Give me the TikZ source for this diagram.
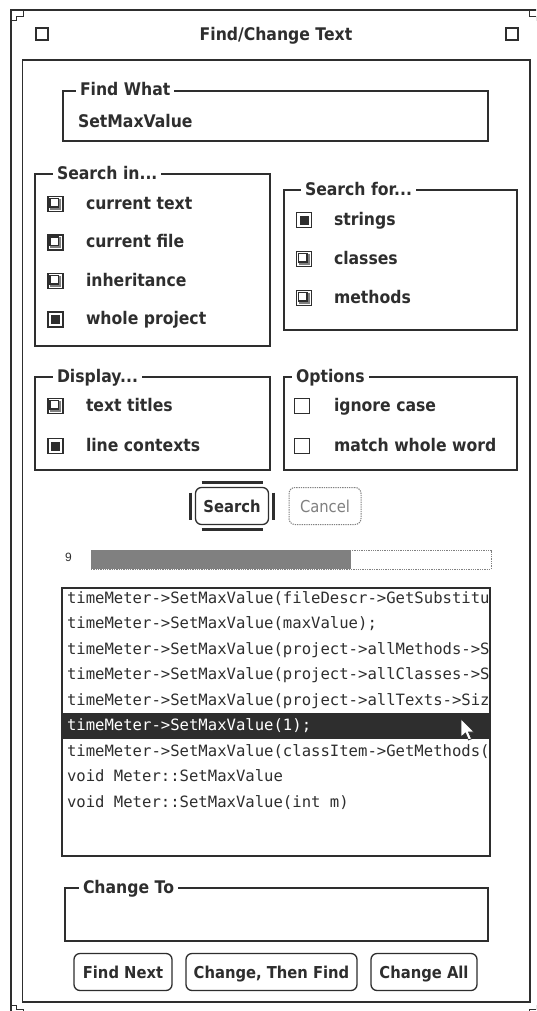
\documentclass[tikz,border=0pt]{standalone}
\usepackage{fontspec}
\newfontfamily\uifont[FakeStretch=0.9]{DejaVu Sans}
\newfontfamily\listfont{DejaVu Sans Mono}
\newfontfamily\smallfont{Liberation Sans}
\usetikzlibrary{positioning}

\definecolor{uiline}{gray}{0.18}
\definecolor{uishade}{gray}{0.5}

\tikzset{
  panelbox/.style={
    draw=uiline, line width=1.3pt,
    inner sep=0pt, anchor=north west
  },
  grouplabel/.style={
    fill=white, anchor=base west,
    inner xsep=4pt, inner ysep=1pt, text=uiline,
    font=\uifont\bfseries\fontsize{17.4}{19}\selectfont
  },
  uilabel/.style={
    anchor=base west, inner sep=0pt, text=uiline,
    font=\uifont\bfseries\fontsize{17.4}{19}\selectfont
  },
  listline/.style={
    anchor=base west, inner sep=0pt, text=uiline,
    font=\listfont\fontsize{15.6}{18}\selectfont
  },
  chkbox/.style={
    draw=uiline, line width=1.5pt,
    minimum size=15pt, inner sep=0pt
  },
  chkoff/.style={
    chkbox, path picture={
      \fill[uishade] ([shift={(-5.5pt,-5.5pt)}]path picture bounding box.center)
        rectangle ([shift={(5.5pt,5.5pt)}]path picture bounding box.center);
      \draw[uiline, line width=1.1pt, fill=white, sharp corners]
        ([shift={(-5.5pt,-3pt)}]path picture bounding box.center)
        rectangle ([shift={(3pt,5.5pt)}]path picture bounding box.center);
    }
  },
  chkon/.style={
    chkbox, path picture={
      \fill[uiline] ([shift={(-4.5pt,-4.5pt)}]path picture bounding box.center)
        rectangle ([shift={(4.5pt,4.5pt)}]path picture bounding box.center);
    }
  },
  chkplain/.style={
    draw=uiline, line width=1.1pt,
    minimum size=15pt, inner sep=0pt
  },
  uibutton/.style={
    draw=uiline, line width=1.3pt, rounded corners=6pt,
    minimum height=37pt, inner sep=0pt, text=uiline,
    text height=12pt, text depth=0pt,
    font=\uifont\bfseries\fontsize{16.4}{18}\selectfont
  },
  dimbutton/.style={
    uibutton, draw=uishade, densely dotted, line width=1pt, text=uishade,
    font=\uifont\fontsize{16.4}{18}\selectfont
  },
}

\begin{document}
\begin{tikzpicture}[x=1pt, y=-1pt, every node/.style={outer sep=0pt}]

\useasboundingbox (0,0) rectangle (536,1011);
\fill[white] (0,0) rectangle (536,1011);
\clip (0,0) rectangle (536,1011);

%% Window frame and inner panel
\node[panelbox, line width=2.8pt, minimum width=530pt, minimum height=1012pt] (window) at (11,10) {};
\node[panelbox, minimum width=507.5pt, minimum height=942pt] (panel) at (22.5,60) {};

%% corner marks of the frame
\draw[uiline, line width=1pt] (12,21) -- (16,21) -- (16,17) -- (23,17) -- (23,11);
\draw[uiline, line width=1pt] (540,21) -- (536,21) -- (536,17) -- (529,17) -- (529,11);
\draw[uiline, line width=1pt] (12,1005) -- (16,1005) -- (16,1009) -- (23,1009) -- (23,1012);
\draw[uiline, line width=1pt] (540,1005) -- (536,1005) -- (536,1009) -- (529,1009) -- (529,1012);

%% Title bar
\node[chkplain, minimum size=12pt, line width=1.2pt, anchor=north west] (closebox) at (36,28) {};
\node[chkplain, minimum size=12pt, line width=1.2pt, anchor=north west] (zoombox) at (506,28) {};
\node[uilabel, anchor=base] (title) at (276,41) {Find/Change Text};

%% Find What
\node[panelbox, minimum width=425pt, minimum height=50pt] (findbox) at (63,91) {};
\node[grouplabel] (findlabel) at (76,96) {Find What};
\node[uilabel] (findtext) at (78,128) {SetMaxValue};

%% Search in...
\node[panelbox, minimum width=235pt, minimum height=172pt] (inbox) at (35,174) {};
\node[grouplabel] (inlabel) at (53,179) {Search in...};
\node[chkoff] (chktext) at (55.5,204) {};
\node[uilabel] (lbltext) at (86,209) {current text};
\node[chkoff] (chkfile) at (55.5,242.5) {};
\node[uilabel] (lblfile) at (86,247.5) {current file};
\node[chkoff] (chkinherit) at (55.5,281) {};
\node[uilabel] (lblinherit) at (86,286) {inheritance};
\node[chkon] (chkproject) at (55.5,319.5) {};
\node[uilabel] (lblproject) at (86,324.5) {whole project};

%% Search for...
\node[panelbox, minimum width=233pt, minimum height=140pt] (forbox) at (284,190) {};
\node[grouplabel] (forlabel) at (301,195) {Search for...};
\node[chkon] (chkstrings) at (304,220) {};
\node[uilabel] (lblstrings) at (334,225) {strings};
\node[chkoff] (chkclasses) at (304,259) {};
\node[uilabel] (lblclasses) at (334,264) {classes};
\node[chkoff] (chkmethods) at (304,298) {};
\node[uilabel] (lblmethods) at (334,303) {methods};

%% Display...
\node[panelbox, minimum width=235pt, minimum height=93pt] (displaybox) at (35,377) {};
\node[grouplabel] (displaylabel) at (53,382) {Display...};
\node[chkoff] (chktitles) at (55.5,406) {};
\node[uilabel] (lbltitles) at (86,411) {text titles};
\node[chkon] (chkcontexts) at (55.5,446) {};
\node[uilabel] (lblcontexts) at (86,451) {line contexts};

%% Options
\node[panelbox, minimum width=233pt, minimum height=93pt] (optbox) at (284,377) {};
\node[grouplabel] (optlabel) at (292,382) {Options};
\node[chkplain] (chkcase) at (302,406) {};
\node[uilabel] (lblcase) at (334,411) {ignore case};
\node[chkplain] (chkword) at (302,446) {};
\node[uilabel] (lblword) at (334,451) {match whole word};

%% Search / Cancel
\node[uibutton, minimum width=73pt] (search) at (232,506) {Search};
\draw[uiline, line width=2.5pt] ([shift={(6pt,5pt)}]search.north west) -- ([shift={(-6pt,5pt)}]search.north east);
\draw[uiline, line width=2.5pt] ([shift={(6pt,-5pt)}]search.south west) -- ([shift={(-6pt,-5pt)}]search.south east);
\draw[uiline, line width=2.5pt] ([shift={(-5pt,-5pt)}]search.north west) -- ([shift={(-5pt,5pt)}]search.south west);
\draw[uiline, line width=2.5pt] ([shift={(5pt,-5pt)}]search.north east) -- ([shift={(5pt,5pt)}]search.south east);
\node[dimbutton, minimum width=72pt] (cancel) at (325,506) {Cancel};

%% Progress meter
\node[anchor=base west, inner sep=0pt, text=uiline, font=\smallfont\fontsize{12}{14}\selectfont] (count) at (65,561.5) {9};
\node[panelbox, draw=uishade, densely dotted, line width=1pt, minimum width=400pt, minimum height=19pt] (meter) at (91,550) {};
\node[anchor=north west, inner sep=0pt, fill=uishade, minimum width=260pt, minimum height=19pt] (meterfill) at (91,550) {};

%% Results list
\node[panelbox, minimum width=428pt, minimum height=268pt] (results) at (62,588) {};
\begin{scope}
\clip (results.north west) rectangle (results.south east);
\node[anchor=north west, inner sep=0pt, fill=uiline, minimum width=428pt, minimum height=25.5pt] (selband) at (62,713) {};
\node[listline] (hit1) at (67,603) {timeMeter->SetMaxValue(fileDescr->GetSubstitut};
\node[listline] (hit2) at (67,628.5) {timeMeter->SetMaxValue(maxValue);};
\node[listline] (hit3) at (67,654) {timeMeter->SetMaxValue(project->allMethods->S};
\node[listline] (hit4) at (67,679.5) {timeMeter->SetMaxValue(project->allClasses->S};
\node[listline] (hit5) at (67,705) {timeMeter->SetMaxValue(project->allTexts->Size};
\node[listline, text=white] (hit6) at (67,730.5) {timeMeter->SetMaxValue(1);};
\node[listline] (hit7) at (67,756) {timeMeter->SetMaxValue(classItem->GetMethods(};
\node[listline] (hit8) at (67,781.5) {void Meter::SetMaxValue};
\node[listline] (hit9) at (67,807) {void Meter::SetMaxValue(int m)};
\end{scope}
\draw[uiline, line width=1.3pt] (results.north west) rectangle (results.south east);

%% mouse pointer
\draw[fill=white, draw=uiline, line width=0.7pt] (461,719) -- (461,737) -- (465.5,733) -- (468.5,740)
  -- (471.5,738.8) -- (468.5,732) -- (474,732) -- cycle;

%% Change To
\node[panelbox, minimum width=423pt, minimum height=53pt] (changebox) at (65,888) {};
\node[grouplabel] (changelabel) at (79,893) {Change To};

%% Bottom buttons
\node[uibutton, minimum width=98pt] (findnext) at (123,972) {Find Next};
\node[uibutton, minimum width=171pt] (changefind) at (271.5,972) {Change, Then Find};
\node[uibutton, minimum width=106pt] (changeall) at (424,972) {Change All};

\end{tikzpicture}
\end{document}
